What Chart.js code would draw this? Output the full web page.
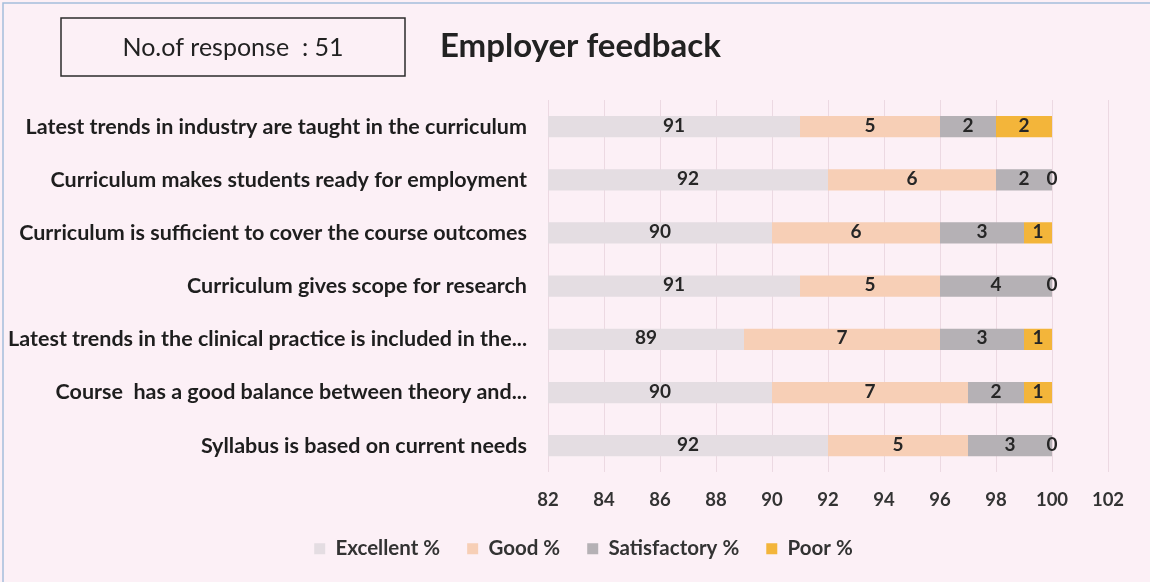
<!DOCTYPE html>
<html lang="en">
<head>
    <meta charset="UTF-8">
    <title>Employer feedback</title>
    <script src="https://cdn.jsdelivr.net/npm/chart.js"></script>
    <style>
        html, body { margin: 0; padding: 0; background: #fcf0f6; }
        #wrap { width: 1150px; height: 582px; position: relative; }
    </style>
</head>
<body>
    <div id="wrap"><canvas id="feedbackChart" width="1150" height="582"></canvas></div>

    <script>
        // Data
        const categories = [
            'Latest trends in industry are taught in the curriculum',
            'Curriculum makes students ready for employment',
            'Curriculum is sufficient to cover the course outcomes',
            'Curriculum gives scope for research',
            'Latest trends in the clinical practice is included in the...',
            'Course  has a good balance between theory and...',
            'Syllabus is based on current needs'
        ];
        const excellent = [91, 92, 90, 91, 89, 90, 92];
        const good = [5, 6, 6, 5, 7, 7, 5];
        const satisfactory = [2, 2, 3, 4, 3, 2, 3];
        const poor = [2, 0, 1, 0, 1, 1, 0];
        const seriesNames = ['Excellent %', 'Good %', 'Satisfactory %', 'Poor %'];
        const xMin = 82, xMax = 102, xStep = 2;
        const responseText = 'No.of response  : 51';
        const titleText = 'Employer feedback';

        const FONT = 'Lato, "Open Sans", sans-serif';

        // Header box, title and outer frame
        const headerPlugin = {
            id: 'header',
            beforeDraw(chart) {
                const c = chart.ctx;
                c.save();
                c.fillStyle = '#fcf0f6';
                c.fillRect(0, 0, chart.width, chart.height);
                c.strokeStyle = '#a4bddb';
                c.lineWidth = 1.5;
                c.strokeRect(3, 3, chart.width, chart.height);
                c.strokeStyle = '#2b2b2b';
                c.lineWidth = 1.5;
                c.strokeRect(61, 18, 344, 58);
                c.fillStyle = '#222';
                c.font = '25px ' + FONT;
                c.textAlign = 'center';
                c.textBaseline = 'middle';
                c.fillText(responseText, 233, 48);
                c.font = 'bold 33px ' + FONT;
                c.textAlign = 'left';
                c.fillText(titleText, 440, 46);
                c.restore();
            },
            afterLayout(chart) {
                // legend sits a bit right of the canvas centre in the original
                chart.legend.left += 35;
                chart.legend.right += 35;
            }
        };

        // Value labels centred on the visible part of each segment
        const valueLabels = {
            id: 'valueLabels',
            afterDatasetsDraw(chart) {
                const c = chart.ctx;
                const area = chart.chartArea;
                c.save();
                c.font = 'bold 19px ' + FONT;
                c.fillStyle = '#262626';
                c.textAlign = 'center';
                c.textBaseline = 'middle';
                chart.data.datasets.forEach((ds, i) => {
                    const meta = chart.getDatasetMeta(i);
                    meta.data.forEach((bar, j) => {
                        const p = bar.getProps(['x', 'base', 'y'], true);
                        const l = Math.max(Math.min(p.x, p.base), area.left);
                        const r = Math.min(Math.max(p.x, p.base), area.right);
                        c.fillText(ds.data[j], (l + r) / 2, p.y - 1);
                    });
                });
                c.restore();
            }
        };

        const ctx = document.getElementById('feedbackChart').getContext('2d');
        new Chart(ctx, {
            type: 'bar',
            data: {
                labels: categories,
                datasets: [
                    { label: seriesNames[0], data: excellent, backgroundColor: '#e4dde2' },
                    { label: seriesNames[1], data: good, backgroundColor: '#f7cfb6' },
                    { label: seriesNames[2], data: satisfactory, backgroundColor: '#b5b1b5' },
                    { label: seriesNames[3], data: poor, backgroundColor: '#f3b53a' }
                ]
            },
            options: {
                indexAxis: 'y',
                responsive: false,
                animation: false,
                layout: { padding: { top: 100, left: 6, right: 42, bottom: 13 } },
                datasets: { bar: { categoryPercentage: 1, barPercentage: 0.4 } },
                scales: {
                    x: {
                        stacked: true,
                        min: xMin,
                        max: xMax,
                        ticks: { stepSize: xStep, color: '#333', font: { family: FONT, size: 18.5, weight: 'bold' }, padding: 17 },
                        grid: { color: '#ecd9e2', drawTicks: false },
                        border: { display: false }
                    },
                    y: {
                        stacked: true,
                        ticks: { color: '#1e1e1e', font: { family: FONT, size: 21.5, weight: 'bold' }, padding: 13 },
                        grid: { display: false },
                        border: { display: false },
                        afterFit(scale) { scale.width = 542; }
                    }
                },
                plugins: {
                    legend: {
                        position: 'bottom',
                        labels: {
                            boxWidth: 11,
                            boxHeight: 11,
                            color: '#333',
                            padding: 10,
                            font: { family: FONT, size: 20.5, weight: 'bold' },
                            generateLabels(chart) {
                                const items = Chart.defaults.plugins.legend.labels.generateLabels(chart);
                                // a little extra room after each entry, as in the original
                                items.forEach(it => { it.text = it.text + '\u2002\u2004'; });
                                return items;
                            }
                        }
                    },
                    tooltip: { enabled: false }
                }
            },
            plugins: [headerPlugin, valueLabels]
        });
    </script>
</body>
</html>
